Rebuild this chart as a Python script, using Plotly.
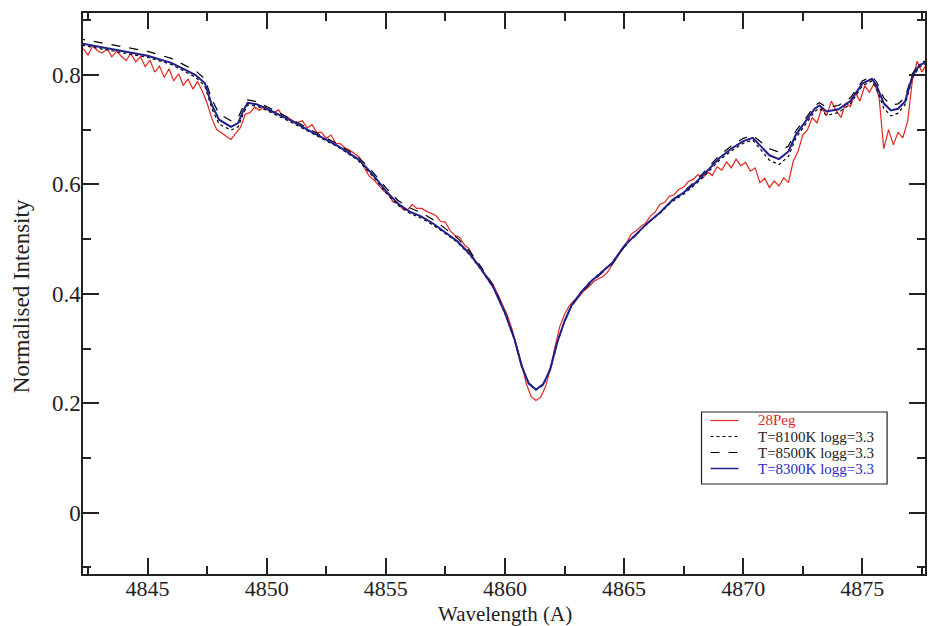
import plotly.graph_objects as go

# ---------------- data ----------------
# model grid (Angstrom)
model_wl = [4842.0, 4842.5, 4843.0, 4844.0, 4845.0, 4846.0, 4847.0, 4847.4, 4847.7, 4848.0,
            4848.5, 4848.8, 4849.0, 4849.2, 4849.6, 4850.0, 4851.0, 4852.0, 4853.0, 4853.8,
            4854.2, 4854.6, 4855.0, 4855.5, 4856.0, 4856.5, 4857.0, 4857.5, 4858.0, 4858.5,
            4859.0, 4859.5, 4860.0, 4860.4, 4860.7, 4861.0, 4861.3, 4861.6, 4861.9, 4862.2,
            4862.5, 4862.8, 4863.2, 4863.6, 4864.0, 4864.5, 4865.0, 4865.5, 4866.0, 4866.5,
            4867.0, 4867.5, 4868.0, 4868.5, 4869.0, 4869.5, 4870.0, 4870.4, 4870.8, 4871.1,
            4871.5, 4871.9, 4872.2, 4872.6, 4873.0, 4873.2, 4873.5, 4874.0, 4874.5, 4875.0,
            4875.4, 4875.6, 4875.9, 4876.2, 4876.5, 4876.8, 4877.1, 4877.4, 4877.8]

# T=8300K logg=3.3 (blue)
model_8300 = [0.859, 0.855, 0.850, 0.843, 0.835, 0.822, 0.800, 0.785, 0.745, 0.718,
              0.705, 0.712, 0.733, 0.749, 0.746, 0.738, 0.717, 0.693, 0.670, 0.647,
              0.630, 0.610, 0.588, 0.565, 0.550, 0.541, 0.528, 0.512, 0.496, 0.474,
              0.445, 0.413, 0.365, 0.317, 0.268, 0.236, 0.225, 0.234, 0.262, 0.312,
              0.350, 0.379, 0.403, 0.422, 0.437, 0.456, 0.487, 0.508, 0.530, 0.548,
              0.570, 0.585, 0.603, 0.625, 0.648, 0.665, 0.679, 0.685, 0.666, 0.653,
              0.646, 0.660, 0.690, 0.713, 0.738, 0.744, 0.733, 0.737, 0.752, 0.784,
              0.793, 0.780, 0.748, 0.735, 0.738, 0.752, 0.798, 0.818, 0.825]

# T=8500K logg=3.3 (black dashed, weaker metal lines)
model_8500 = [0.867, 0.863, 0.858, 0.851, 0.843, 0.830, 0.808, 0.793, 0.755, 0.729,
              0.716, 0.722, 0.741, 0.754, 0.751, 0.742, 0.720, 0.696, 0.673, 0.651,
              0.635, 0.615, 0.594, 0.571, 0.557, 0.548, 0.535, 0.519, 0.502, 0.479,
              0.449, 0.416, 0.367, 0.318, 0.269, 0.237, 0.226, 0.235, 0.263, 0.312,
              0.349, 0.377, 0.401, 0.420, 0.435, 0.454, 0.485, 0.507, 0.529, 0.548,
              0.571, 0.587, 0.606, 0.629, 0.653, 0.670, 0.684, 0.689, 0.675, 0.665,
              0.659, 0.670, 0.697, 0.719, 0.744, 0.749, 0.741, 0.744, 0.758, 0.789,
              0.797, 0.787, 0.758, 0.745, 0.747, 0.759, 0.802, 0.821, 0.828]

# T=8100K logg=3.3 (black dotted, stronger metal lines)
model_8100 = [0.856, 0.852, 0.847, 0.840, 0.832, 0.819, 0.796, 0.780, 0.738, 0.710,
              0.699, 0.705, 0.727, 0.745, 0.743, 0.735, 0.714, 0.691, 0.668, 0.645,
              0.627, 0.607, 0.585, 0.562, 0.547, 0.538, 0.525, 0.510, 0.494, 0.472,
              0.444, 0.412, 0.364, 0.316, 0.267, 0.235, 0.224, 0.233, 0.261, 0.311,
              0.350, 0.379, 0.404, 0.423, 0.438, 0.457, 0.487, 0.508, 0.530, 0.547,
              0.568, 0.582, 0.600, 0.621, 0.644, 0.661, 0.675, 0.681, 0.659, 0.644,
              0.636, 0.651, 0.684, 0.708, 0.733, 0.739, 0.726, 0.731, 0.747, 0.780,
              0.789, 0.774, 0.739, 0.725, 0.730, 0.746, 0.794, 0.815, 0.822]

# 28Peg observed spectrum, sampled every 0.2 A from 4842.3
obs_start = 4842.3
obs_step = 0.2
obs_28peg = [0.848, 0.836, 0.853, 0.844, 0.840, 0.848, 0.833, 0.843, 0.834, 0.826,
             0.839, 0.824, 0.833, 0.815, 0.827, 0.805, 0.816, 0.795, 0.811, 0.789,
             0.802, 0.781, 0.792, 0.774, 0.788, 0.770, 0.748, 0.720, 0.700, 0.694,
             0.688, 0.682, 0.693, 0.704, 0.728, 0.731, 0.741, 0.735, 0.743, 0.734,
             0.731, 0.736, 0.723, 0.722, 0.716, 0.713, 0.716, 0.703, 0.709, 0.695,
             0.695, 0.684, 0.690, 0.675, 0.674, 0.666, 0.662, 0.655, 0.649, 0.630,
             0.615, 0.608, 0.598, 0.588, 0.582, 0.568, 0.567, 0.555, 0.553, 0.563,
             0.556, 0.556, 0.551, 0.547, 0.543, 0.532, 0.531, 0.515, 0.507, 0.503,
             0.489, 0.482, 0.464, 0.453, 0.439, 0.429, 0.417, 0.399, 0.381, 0.361,
             0.335, 0.305, 0.272, 0.235, 0.212, 0.205, 0.211, 0.230, 0.262, 0.303,
             0.340, 0.362, 0.378, 0.388, 0.394, 0.405, 0.412, 0.421, 0.427, 0.431,
             0.439, 0.453, 0.465, 0.479, 0.493, 0.509, 0.515, 0.523, 0.529, 0.542,
             0.549, 0.563, 0.567, 0.578, 0.581, 0.591, 0.595, 0.605, 0.609, 0.618,
             0.611, 0.623, 0.616, 0.632, 0.626, 0.641, 0.630, 0.646, 0.634, 0.640,
             0.624, 0.630, 0.603, 0.611, 0.594, 0.606, 0.597, 0.612, 0.603, 0.642,
             0.660, 0.690, 0.700, 0.722, 0.712, 0.740, 0.725, 0.752, 0.735, 0.722,
             0.748, 0.742, 0.768, 0.752, 0.780, 0.768, 0.785, 0.760, 0.665, 0.700,
             0.672, 0.695, 0.685, 0.715, 0.790, 0.825, 0.805, 0.820]

x_range = [4842.29, 4877.63]
y_range = [-0.112, 0.913]
x_major = [4845, 4850, 4855, 4860, 4865, 4870, 4875]
y_major = [0, 0.2, 0.4, 0.6, 0.8]
y_labels = ["0", "0.2", "0.4", "0.6", "0.8"]

legend_names = ["28Peg", "T=8100K logg=3.3", "T=8500K logg=3.3", "T=8300K logg=3.3"]

# ---------------- figure ----------------
RED = "#e3261f"
BLUE = "#1f1f8f"
BLUE_TXT = "#2b2bbf"
INK = "#222222"
FONT = "Liberation Serif, Times New Roman, serif"

W, H = 928, 626
ML, MR, MT, MB = 83, 1, 13, 52
PW, PH = W - ML - MR, H - MT - MB


def px(xp):
    return (xp - ML) / PW


def py(yp):
    return (H - MB - yp) / PH


fig = go.Figure()
fig.add_trace(go.Scatter(x0=obs_start, dx=obs_step, y=obs_28peg, mode="lines",
                         line=dict(color=RED, width=1.2), name=legend_names[0]))
fig.add_trace(go.Scatter(x=model_wl, y=model_8100, mode="lines",
                         line=dict(color="black", width=1.2, dash="dot"), name=legend_names[1]))
fig.add_trace(go.Scatter(x=model_wl, y=model_8500, mode="lines",
                         line=dict(color="black", width=1.2, dash="dash"), name=legend_names[2]))
fig.add_trace(go.Scatter(x=model_wl, y=model_8300, mode="lines",
                         line=dict(color=BLUE, width=2), name=legend_names[3]))

axis_common = dict(showline=True, linecolor=INK, linewidth=1.5, mirror="allticks",
                   ticks="inside", ticklen=16, tickwidth=1.5, tickcolor=INK,
                   showgrid=False, zeroline=False)

fig.update_xaxes(range=x_range, tickvals=x_major,
                 ticktext=[str(v) for v in x_major],
                 ticklabelstandoff=-6,
                 tickfont=dict(family=FONT, size=22, color=INK),
                 minor=dict(ticks="inside", ticklen=8, tickwidth=1.5, tickcolor=INK,
                            dtick=2.5, tick0=4842.5),
                 **axis_common)
fig.update_yaxes(range=y_range, tickvals=y_major, ticktext=y_labels,
                 ticklabelstandoff=-4,
                 tickfont=dict(family=FONT, size=23, color=INK),
                 minor=dict(ticks="inside", ticklen=8, tickwidth=1.5, tickcolor=INK,
                            dtick=0.1, tick0=-0.1),
                 **axis_common)

annotations = [
    dict(text="Wavelength (A)", xref="paper", yref="paper", x=px(506), y=py(614),
         xanchor="center", yanchor="middle", showarrow=False,
         font=dict(family=FONT, size=21, color=INK)),
    dict(text="Normalised Intensity", xref="paper", yref="paper", x=px(22), y=py(296),
         xanchor="center", yanchor="middle", textangle=-90, showarrow=False,
         font=dict(family=FONT, size=23, color=INK)),
]

# hand-drawn legend box (matches the xmgrace legend)
shapes = [dict(type="rect", xref="paper", yref="paper",
               x0=px(703), x1=px(889), y0=py(412), y1=py(484),
               line=dict(color=INK, width=1.2), fillcolor="white", layer="above")]
row_y = [420.5, 436.5, 452.5, 468.5]
styles = [dict(color=RED, width=1.2),
          dict(color="black", width=1.2, dash="dot"),
          dict(color="black", width=1.2, dash="dash"),
          dict(color=BLUE, width=1.5)]
text_colors = [RED, INK, INK, BLUE_TXT]
for name, yy, st, tc in zip(legend_names, row_y, styles, text_colors):
    shapes.append(dict(type="line", xref="paper", yref="paper",
                       x0=px(712), x1=px(740), y0=py(yy), y1=py(yy),
                       line=st, layer="above"))
    annotations.append(dict(text=name, xref="paper", yref="paper",
                            x=px(758), y=py(yy), xanchor="left", yanchor="middle",
                            showarrow=False, font=dict(family=FONT, size=15, color=tc)))

fig.update_layout(
    width=W, height=H,
    margin=dict(l=ML, r=MR, t=MT, b=MB),
    paper_bgcolor="white", plot_bgcolor="white",
    showlegend=False,
    font=dict(family=FONT, color=INK),
    shapes=shapes,
    annotations=annotations,
)

fig.write_html("out.html")
